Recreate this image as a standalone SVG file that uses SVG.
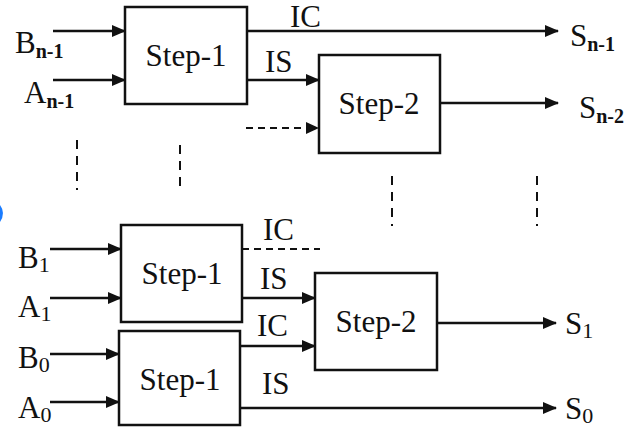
<svg xmlns="http://www.w3.org/2000/svg" width="640" height="427" viewBox="0 0 640 427">
<style>
.box{fill:#fff;stroke:#111;stroke-width:2.5}
.ln{fill:none;stroke:#111;stroke-width:2.5}
.dl{fill:none;stroke:#111;stroke-width:2;stroke-dasharray:7,5}
.vd{fill:none;stroke:#111;stroke-width:2;stroke-dasharray:9,7}
.t{font-family:"Liberation Serif","Times New Roman",serif;font-size:31px;fill:#111}
.s{font-size:20px;font-weight:bold}
.d{font-size:22px}
</style>
<defs>
<marker id="ah" markerWidth="14" markerHeight="12" refX="13" refY="6" orient="auto" markerUnits="userSpaceOnUse">
<path d="M0,0 L14,6 L0,12 Z" fill="#111"/>
</marker>
</defs>
<rect width="640" height="427" fill="#fff"/>
<path d="M0,205 Q6,213 0,222 Z" fill="#1a7cff"/>
<g id="n1">
<rect class="box" x="125" y="7" width="122" height="97"/>
<text class="t" x="186" y="66" text-anchor="middle">Step-1</text>
</g>
<g id="n2">
<rect class="box" x="319" y="55" width="121" height="98"/>
<text class="t" x="379" y="114" text-anchor="middle">Step-2</text>
</g>
<g id="n3">
<rect class="box" x="121" y="225" width="121" height="97"/>
<text class="t" x="182" y="284" text-anchor="middle">Step-1</text>
</g>
<g id="n4">
<rect class="box" x="315" y="273" width="122" height="97"/>
<text class="t" x="376" y="332" text-anchor="middle">Step-2</text>
</g>
<g id="n5">
<rect class="box" x="119" y="331" width="121" height="94"/>
<text class="t" x="180" y="390" text-anchor="middle">Step-1</text>
</g>
<g id="labels">
<text class="t" x="15" y="53">B<tspan class="s" dy="5">n-1</tspan></text>
<text class="t" x="24" y="103">A<tspan class="s" dy="5">n-1</tspan></text>
<text class="t" x="570" y="46">S<tspan class="s" dy="5">n-1</tspan></text>
<text class="t" x="579" y="118">S<tspan class="s" dy="5">n-2</tspan></text>
<text class="t" x="18" y="268">B<tspan class="d" dy="4">1</tspan></text>
<text class="t" x="18" y="317">A<tspan class="d" dy="4">1</tspan></text>
<text class="t" x="18" y="368">B<tspan class="d" dy="4">0</tspan></text>
<text class="t" x="18" y="418">A<tspan class="d" dy="4">0</tspan></text>
<text class="t" x="565" y="334">S<tspan class="d" dy="4">1</tspan></text>
<text class="t" x="565" y="419">S<tspan class="d" dy="4">0</tspan></text>
<text class="t" x="290" y="27" font-size="30">IC</text>
<text class="t" x="265" y="72">IS</text>
<text class="t" x="263" y="240">IC</text>
<text class="t" x="260" y="289">IS</text>
<text class="t" x="257" y="336">IC</text>
<text class="t" x="262" y="394">IS</text>
</g>
<g id="connectors">
<line class="ln" x1="53" y1="31" x2="125" y2="31" marker-end="url(#ah)"/>
<line class="ln" x1="53" y1="80" x2="125" y2="80" marker-end="url(#ah)"/>
<line class="ln" x1="247" y1="31" x2="558" y2="31" marker-end="url(#ah)"/>
<line class="ln" x1="247" y1="80" x2="319" y2="80" marker-end="url(#ah)"/>
<line class="dl" x1="246" y1="128" x2="312" y2="128"/>
<path d="M306,122 L319,128 L306,134 Z" fill="#111"/>
<line class="ln" x1="440" y1="103" x2="558" y2="103" marker-end="url(#ah)"/>
<line class="vd" x1="77" y1="140" x2="77" y2="190"/>
<line class="vd" x1="180" y1="145" x2="180" y2="193"/>
<line class="vd" x1="392" y1="176" x2="392" y2="226"/>
<line class="vd" x1="537" y1="176" x2="537" y2="226" stroke-width="1.5"/>
<line class="ln" x1="50" y1="249" x2="121" y2="249" marker-end="url(#ah)"/>
<line class="ln" x1="50" y1="298" x2="121" y2="298" marker-end="url(#ah)"/>
<line class="dl" x1="242" y1="249" x2="320" y2="249" stroke-width="1.5"/>
<line class="ln" x1="242" y1="298" x2="315" y2="298" marker-end="url(#ah)"/>
<line class="ln" x1="437" y1="323" x2="556" y2="323" marker-end="url(#ah)"/>
<line class="ln" x1="50" y1="354" x2="119" y2="354" marker-end="url(#ah)"/>
<line class="ln" x1="50" y1="402" x2="119" y2="402" marker-end="url(#ah)"/>
<line class="ln" x1="240" y1="346" x2="315" y2="346" marker-end="url(#ah)"/>
<line class="ln" x1="240" y1="408" x2="556" y2="408" marker-end="url(#ah)"/>
</g>
</svg>
